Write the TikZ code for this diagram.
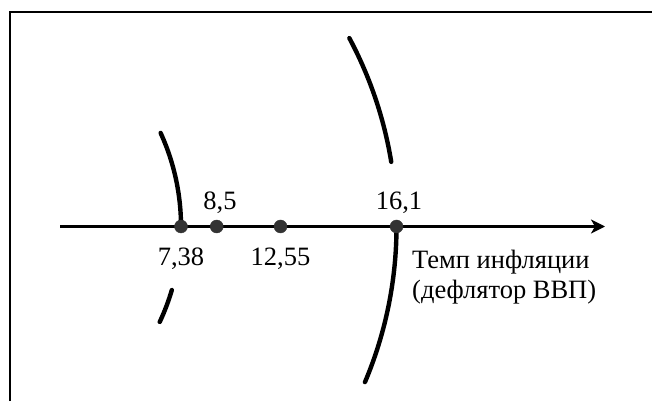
\documentclass[tikz,border=0pt]{standalone}
\usepackage{fontspec}
\setmainfont{Liberation Serif}
\usepackage{tkz-euclide}
\usetikzlibrary{arrows.meta,calc}
\tikzset{curve/.style={line width=4.4pt,line cap=round},
  lbl/.style={font=\fontsize{26.5}{30}\selectfont,inner sep=0pt}}

\begin{document}
\begin{tikzpicture}[x=1pt,y=1pt]
\tkzSetUpLine[line width=2.4pt,color=black]
\tkzSetUpPoint[size=13,color=black!80,fill=black!80]

\tkzDefPoints{0/0/SW,652/404/NE,10/3/F0,10/392/F1,652/392/F2}
\tkzDefPoints{60/177.5/O,605/177.5/E,-44/177.5/Ka,-3.5/177.5/Kb}
\tkzDefPoints{181/177.5/A,216.7/177.5/B,280.5/177.5/C,396.5/177.5/D}
\tkzDefPoints{181/138/LA,220/194/LB,280.5/138/LC,399/194/LD,412/154/LE}
\useasboundingbox (SW) rectangle (NE);

% frame
\draw[line width=2.8pt] (F0) -- (F1) -- (F2);

% arcs
\draw[curve] (A) arc[start angle=0,end angle=24.6,radius=225];
\draw[curve] ([shift={(-16.4:225)}]Ka) arc[start angle=-16.4,end angle=-25.1,radius=225];
\draw[curve] ([shift={(9.3:400)}]Kb) arc[start angle=9.3,end angle=28.1,radius=400];
\draw[curve] (D) arc[start angle=0,end angle=-22.9,radius=400];

% axis
\draw[line width=2.4pt,-{Stealth[length=14pt,width=14pt,inset=4pt]}] (O) -- (E);
\tkzDrawPoints(A,B,C,D)

\node[lbl,anchor=base] (tA) at (LA) {7,38};
\node[lbl,anchor=base] (tB) at (LB) {8,5};
\node[lbl,anchor=base] (tC) at (LC) {12,55};
\node[lbl,anchor=base] (tD) at (LD) {16,1};
\node[lbl,anchor=north west,align=left] (tE) at (LE) {Темп инфляции\\(дефлятор ВВП)};

\end{tikzpicture}
\end{document}
